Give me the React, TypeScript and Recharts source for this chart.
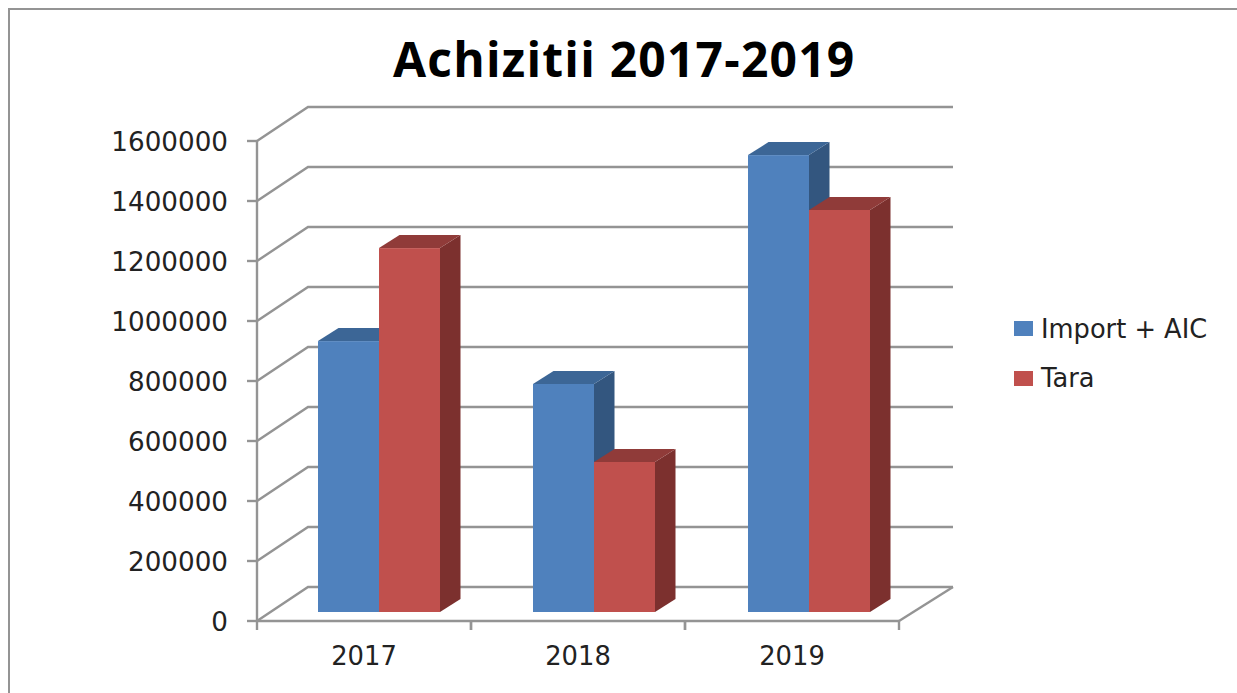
import React from "react";
import { BarChart, Bar, XAxis, YAxis, CartesianGrid, Legend } from "recharts";

const categories = ["2017", "2018", "2019"];
const importAic = [903000, 760000, 1523000];
const tara = [1213000, 500000, 1340000];
const valueTicks = [0, 200000, 400000, 600000, 800000, 1000000, 1200000, 1400000, 1600000];
const chartTitle = "Achizitii 2017-2019";

const data = categories.map((year, i) => ({ year, importAic: importAic[i], tara: tara[i] }));

const GRID = "#949494";
const FONT = "'DejaVu Sans', sans-serif";
const TEXT = "#222222";
const WALL_DX = 51;
const WALL_DY = 34;

function GridLine(props: any) {
  const { x1, x2, y1 } = props;
  const isFloor = y1 > 600;
  const back = y1 - WALL_DY;
  return (
    <g stroke={GRID} strokeWidth={2.4} fill="none">
      <polyline points={`${x1},${y1} ${x1 + WALL_DX},${back} ${x2 + 54},${back}`} />
      {isFloor ? <line x1={x2 + 54} y1={back} x2={x2} y2={y1} /> : null}
    </g>
  );
}

function box(top: string, side: string) {
  return function Box(props: any) {
    const { x, y, width, height, fill, index } = props;
    const fx = x + 15 + (index || 0);
    const fy = y - 9;
    const dx = 20.5;
    const dy = 13;
    return (
      <g>
        <path d={`M${fx + width},${fy} l${dx},${-dy} v${height} l${-dx},${dy} Z`} fill={side} />
        <path d={`M${fx},${fy} l${dx},${-dy} h${width} l${-dx},${dy} Z`} fill={top} />
        <rect x={fx} y={fy} width={width} height={height} fill={fill} />
      </g>
    );
  };
}

function CategoryTick(props: any) {
  const { x, y, payload, width } = props;
  const half = width / categories.length / 2;
  return (
    <g>
      <line x1={x - half} x2={x - half} y1={y - 8} y2={y + 1} stroke={GRID} strokeWidth={2.4} />
      <line x1={x + half} x2={x + half} y1={y - 8} y2={y + 1} stroke={GRID} strokeWidth={2.4} />
      <text x={x} y={y + 36} textAnchor="middle" fontFamily={FONT} fontSize={25.8} fill={TEXT}>
        {payload.value}
      </text>
    </g>
  );
}

function LegendBox(props: any) {
  const items = props.payload || [];
  return (
    <div style={{ fontFamily: FONT, fontSize: 25.7, color: TEXT }}>
      {items.map((it: any) => (
        <div key={it.value} style={{ display: "flex", alignItems: "center", height: 49.5, whiteSpace: "nowrap" }}>
          <span style={{ width: 19, height: 15, background: it.color, marginRight: 8, display: "inline-block" }} />
          <span>{it.value}</span>
        </div>
      ))}
    </div>
  );
}

export default function App() {
  return (
    <div style={{ position: "absolute", left: 0, top: 0, width: 1237, height: 693, background: "#fff", overflow: "hidden" }}>
      <div style={{ position: "absolute", left: 8, top: 8, width: 1229, height: 685, borderLeft: `2.4px solid ${GRID}`, borderTop: `2.4px solid ${GRID}` }} />
      <div style={{ position: "absolute", left: 393, top: 26, width: 462, textAlign: "center", fontFamily: "'Open Sans', sans-serif", fontWeight: 700, fontSize: 48, lineHeight: "66px", letterSpacing: 1.2, whiteSpace: "nowrap", color: "#000" }}>
        {chartTitle}
      </div>
      <div style={{ position: "absolute", left: 0, top: 0 }}>
        <BarChart
          width={1237}
          height={693}
          data={data}
          margin={{ top: 141, right: 338, bottom: 0, left: 0 }}
          barSize={61}
          barGap={0}
        >
          <CartesianGrid vertical={false} horizontal={(p: any) => <GridLine key={p.index ?? p.y1} {...p} />} />
          <XAxis
            dataKey="year"
            height={72}
            axisLine={{ stroke: GRID, strokeWidth: 2.4 }}
            tickLine={false}
            tick={<CategoryTick />}
            interval={0}
          />
          <YAxis
            width={257}
            domain={[0, 1600000]}
            ticks={valueTicks}
            interval={0}
            axisLine={{ stroke: GRID, strokeWidth: 2.4 }}
            tickLine={{ stroke: GRID, strokeWidth: 2.4 }}
            tickSize={10}
            tickMargin={19}
            tick={{ fontFamily: FONT, fontSize: 26.2, fill: TEXT, dy: 1 }}
          />
          <Bar dataKey="importAic" name="Import + AIC" fill="#4f81bd" isAnimationActive={false} shape={box("#3c6696", "#33567f")} />
          <Bar dataKey="tara" name="Tara" fill="#c0504d" isAnimationActive={false} shape={box("#903b39", "#7c302e")} />
          <Legend
            content={<LegendBox />}
            layout="horizontal"
            align="center"
            verticalAlign="middle"
            wrapperStyle={{ position: "absolute", left: 1014, top: 304, width: 210, bottom: "auto", right: "auto" }}
          />
        </BarChart>
      </div>
    </div>
  );
}
